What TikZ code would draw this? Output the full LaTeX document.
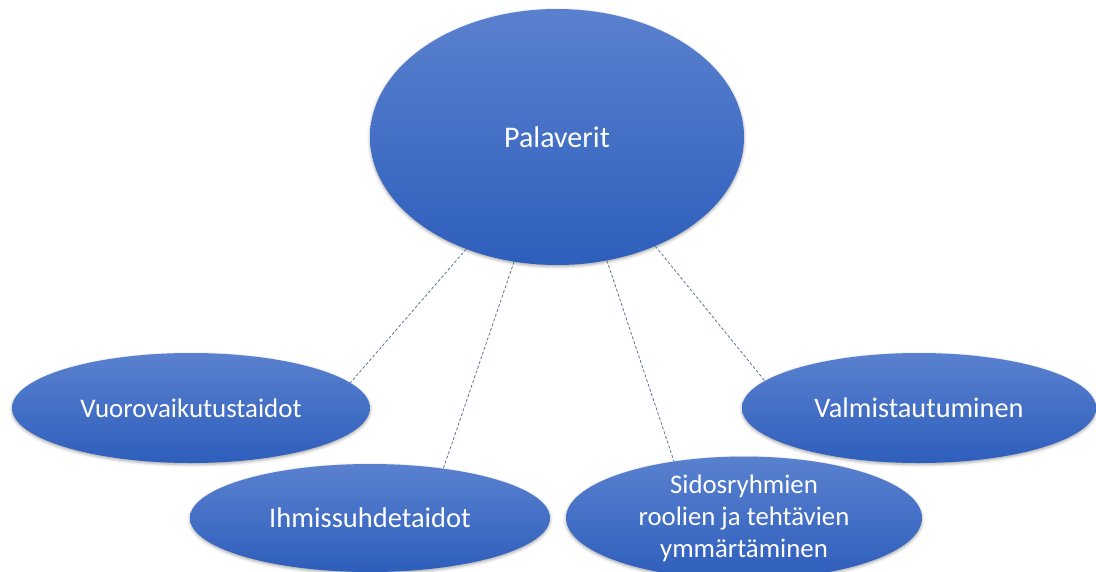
\documentclass[tikz,border=0pt]{standalone}
\usepackage{fontspec}
\setmainfont{Carlito}
\usetikzlibrary{shapes.geometric,shadows.blur}
\definecolor{blobtop}{RGB}{90,129,207}
\definecolor{blobbot}{RGB}{46,94,188}
\definecolor{linkgray}{RGB}{95,115,155}
\tikzset{
  blob/.style={ellipse, inner sep=0pt, text=white, align=center,
    top color=blobtop, bottom color=blobbot, draw=none,
    blur shadow={shadow xshift=0pt, shadow yshift=-1.5pt, shadow blur radius=3pt,
      shadow opacity=35}},
  link/.style={draw=linkgray, line width=0.8pt, dash pattern=on 3pt off 2pt}
}
\begin{document}
\begin{tikzpicture}[x=1pt,y=-1pt]
  \useasboundingbox (0,0) rectangle (1096,571);
  \node[blob, minimum width=374pt, minimum height=256pt, font=\fontsize{30}{36}\selectfont] (pal) at (557,137) {Palaverit};
  \node[blob, minimum width=358pt, minimum height=110pt, font=\fontsize{26.9}{32}\selectfont] (vuo) at (191,408) {Vuorovaikutustaidot};
  \node[blob, minimum width=360pt, minimum height=108pt, font=\fontsize{28.5}{34}\selectfont] (ihm) at (370,518) {Ihmissuhdetaidot};
  \node[blob, minimum width=356pt, minimum height=108pt, font=\fontsize{26.8}{32}\selectfont] (sid) at (744,518) {Sidosryhmien\\roolien ja tehtävien\\ymmärtäminen};
  \node[blob, minimum width=354pt, minimum height=110pt, font=\fontsize{28.3}{34}\selectfont] (val) at (919,408) {Valmistautuminen};
  \draw[link] (pal.-129.3) -- (vuo.9.9);
  \draw[link] (pal.-109.7) -- (ihm.34.8);
  \draw[link] (pal.-68) -- (sid.141.1);
  \draw[link] (pal.-48.6) -- (val.170.6);
\end{tikzpicture}
\end{document}
